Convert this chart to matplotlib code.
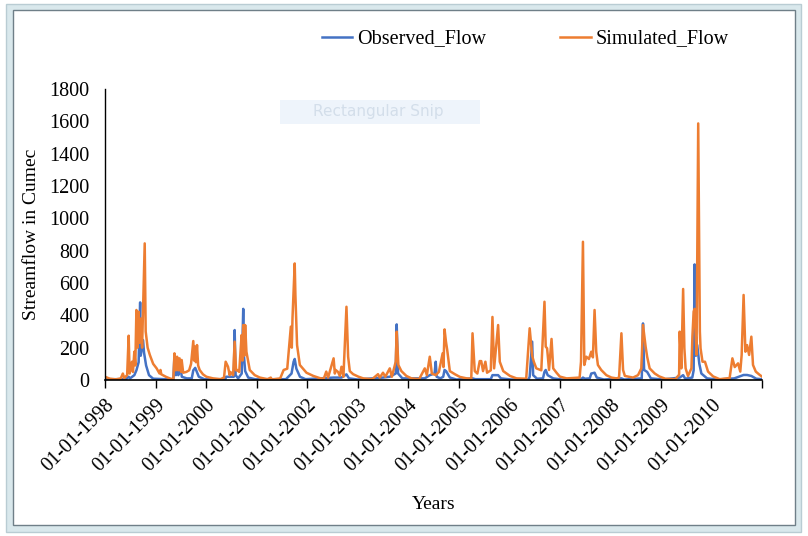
import matplotlib
matplotlib.use("Agg")
import matplotlib.pyplot as plt
from matplotlib.patches import Rectangle
import pandas as pd

# breakpoints (date, flow in cumec)
sim_dates = [
    "1998-01-01", "1998-02-05", "1998-03-20", "1998-04-25", "1998-05-10", "1998-05-20", "1998-06-10",
    "1998-06-21", "1998-06-28", "1998-07-15", "1998-07-22", "1998-08-01", "1998-08-08", "1998-08-16",
    "1998-08-24", "1998-09-01", "1998-09-08", "1998-09-18", "1998-09-26", "1998-10-15", "1998-10-22",
    "1998-11-05", "1998-11-21", "1998-12-15", "1999-01-09", "1999-01-30", "1999-02-06", "1999-02-12",
    "1999-03-19", "1999-04-20", "1999-05-10", "1999-05-18", "1999-05-28", "1999-06-06", "1999-06-15",
    "1999-06-24", "1999-07-05", "1999-07-09", "1999-07-20", "1999-08-12", "1999-09-01", "1999-09-15",
    "1999-10-01", "1999-10-07", "1999-10-12", "1999-10-20", "1999-10-28", "1999-11-05", "1999-11-16",
    "1999-12-10", "2000-01-04", "2000-02-21", "2000-04-15", "2000-05-10", "2000-05-22", "2000-06-08",
    "2000-06-20", "2000-06-25", "2000-07-15", "2000-07-26", "2000-08-05", "2000-08-13", "2000-08-28",
    "2000-09-14", "2000-09-20", "2000-09-26", "2000-10-03", "2000-10-10", "2000-10-19", "2000-11-12",
    "2000-12-18", "2001-01-24", "2001-03-20", "2001-04-13", "2001-04-20", "2001-06-20", "2001-07-15",
    "2001-08-10", "2001-09-05", "2001-09-12", "2001-09-17", "2001-10-03", "2001-10-08", "2001-10-20",
    "2001-11-09", "2001-12-27", "2002-02-15", "2002-04-01", "2002-05-01", "2002-05-19", "2002-06-01",
    "2002-07-11", "2002-07-20", "2002-07-26", "2002-08-12", "2002-08-25", "2002-09-06", "2002-09-20",
    "2002-10-12", "2002-10-24", "2002-11-05", "2002-11-29", "2003-01-05", "2003-02-10", "2003-04-15",
    "2003-05-28", "2003-06-10", "2003-07-03", "2003-07-20", "2003-08-21", "2003-09-05", "2003-10-03",
    "2003-10-10", "2003-10-22", "2003-11-13", "2003-12-19", "2004-01-25", "2004-03-20", "2004-04-30",
    "2004-05-15", "2004-06-05", "2004-06-20", "2004-07-18", "2004-08-10", "2004-09-06", "2004-09-12",
    "2004-09-20", "2004-09-30", "2004-10-09", "2004-10-28", "2004-12-03", "2005-01-09", "2005-02-27",
    "2005-04-01", "2005-04-10", "2005-04-26", "2005-05-15", "2005-06-01", "2005-06-12", "2005-06-25",
    "2005-07-12", "2005-07-24", "2005-08-20", "2005-09-01", "2005-09-13", "2005-10-12", "2005-10-24",
    "2005-11-18", "2006-01-06", "2006-02-22", "2006-05-03", "2006-05-28", "2006-06-15", "2006-06-27",
    "2006-07-15", "2006-08-20", "2006-09-12", "2006-09-21", "2006-10-01", "2006-10-15", "2006-11-02",
    "2006-11-14", "2006-12-08", "2007-01-01", "2007-02-19", "2007-05-24", "2007-06-03", "2007-06-17",
    "2007-06-27", "2007-07-11", "2007-07-30", "2007-08-16", "2007-08-28", "2007-09-09", "2007-09-21",
    "2007-10-03", "2007-10-27", "2007-12-03", "2008-01-09", "2008-02-15", "2008-03-04", "2008-03-21",
    "2008-04-02", "2008-04-15", "2008-06-13", "2008-07-19", "2008-08-12", "2008-08-24", "2008-09-12",
    "2008-09-23", "2008-10-11", "2008-11-17", "2008-12-20", "2009-02-01", "2009-04-15", "2009-05-12",
    "2009-05-16", "2009-05-28", "2009-06-10", "2009-06-19", "2009-06-28", "2009-07-15", "2009-08-09",
    "2009-08-16", "2009-08-25", "2009-09-01", "2009-09-15", "2009-09-27", "2009-10-09", "2009-10-14",
    "2009-10-28", "2009-11-15", "2009-12-07", "2010-01-13", "2010-03-01", "2010-05-12", "2010-06-01",
    "2010-06-18", "2010-07-12", "2010-07-28", "2010-08-07", "2010-08-21", "2010-09-03", "2010-09-15",
    "2010-09-30", "2010-10-16", "2010-10-28", "2010-11-17", "2010-12-16", "2010-12-31",
]
sim_flow = [
    20, 8, 4, 10, 40, 12, 30,
    274, 40, 113, 50, 175, 90, 433,
    200, 422, 230, 380, 200, 845, 300,
    200, 155, 100, 72, 40, 62, 35,
    19, 8, 5, 165, 60, 144, 60,
    134, 50, 124, 45, 50, 60, 100,
    241, 120, 207, 110, 216, 90, 62,
    35, 20, 10, 5, 15, 113, 82,
    30, 50, 30, 237, 60, 62, 50,
    278, 120, 340, 150, 340, 175, 62,
    30, 15, 5, 15, 3, 10, 62,
    70, 330, 200, 383, 721, 525, 216,
    93, 45, 25, 12, 8, 52, 15,
    134, 40, 62, 50, 25, 82, 20,
    453, 144, 55, 36, 21, 10, 5,
    36, 15, 45, 20, 72, 20, 113,
    299, 93, 55, 25, 10, 5, 72,
    30, 144, 40, 30, 50, 165, 80,
    313, 237, 186, 55, 36, 19, 10,
    8, 289, 55, 40, 117, 117, 55,
    113, 45, 60, 390, 72, 340, 113,
    55, 25, 10, 8, 320, 150, 113,
    72, 60, 484, 206, 196, 62, 254,
    72, 45, 21, 10, 15, 113, 855,
    93, 144, 130, 175, 140, 433, 175,
    93, 62, 30, 15, 10, 15, 289,
    62, 25, 15, 30, 72, 340, 206,
    144, 72, 40, 22, 8, 5, 33,
    299, 72, 563, 196, 72, 25, 72,
    268, 423, 440, 155, 1587, 299, 196,
    113, 113, 52, 22, 5, 12, 134,
    80, 103, 52, 155, 526, 175, 216,
    155, 268, 93, 52, 31, 22,
]

obs_dates = [
    "1998-01-01", "1998-06-01", "1998-06-21", "1998-07-01", "1998-08-01", "1998-08-16", "1998-09-01",
    "1998-09-12", "1998-09-16", "1998-10-03", "1998-10-10", "1998-10-25", "1998-11-15", "1998-12-15",
    "1999-05-10", "1999-05-18", "1999-05-28", "1999-06-06", "1999-06-15", "1999-06-24", "1999-07-10",
    "1999-08-15", "1999-09-20", "1999-10-01", "1999-10-15", "1999-11-10", "1999-12-20", "2000-05-20",
    "2000-05-25", "2000-07-20", "2000-07-26", "2000-08-02", "2000-08-20", "2000-09-15", "2000-09-26",
    "2000-10-01", "2000-10-10", "2000-11-01", "2000-12-20", "2001-08-01", "2001-09-10", "2001-09-25",
    "2001-10-03", "2001-10-15", "2001-11-10", "2001-12-20", "2002-07-11", "2002-09-06", "2002-10-12",
    "2002-10-30", "2003-01-01", "2003-07-03", "2003-08-21", "2003-10-03", "2003-10-10", "2003-10-20",
    "2003-11-20", "2004-04-30", "2004-06-05", "2004-07-10", "2004-07-18", "2004-07-25", "2004-08-20",
    "2004-09-10", "2004-09-20", "2004-10-01", "2004-10-28", "2004-12-15", "2005-04-10", "2005-05-01",
    "2005-08-20", "2005-09-01", "2005-10-12", "2005-11-01", "2006-01-15", "2006-05-20", "2006-05-28",
    "2006-06-15", "2006-06-22", "2006-07-20", "2006-09-01", "2006-09-12", "2006-09-21", "2006-10-05",
    "2006-11-14", "2007-01-15", "2007-06-01", "2007-06-17", "2007-07-01", "2007-08-05", "2007-08-16",
    "2007-09-09", "2007-09-25", "2007-11-15", "2008-03-21", "2008-04-10", "2008-08-15", "2008-08-24",
    "2008-09-01", "2008-09-23", "2008-10-20", "2009-01-15", "2009-05-16", "2009-06-10", "2009-06-25",
    "2009-08-15", "2009-08-25", "2009-09-01", "2009-09-10", "2009-09-20", "2009-10-05", "2009-10-20",
    "2009-11-30", "2010-02-15", "2010-06-15", "2010-08-21", "2010-09-15", "2010-10-16", "2010-11-20",
    "2010-12-31",
]
obs_flow = [
    5, 5, 20, 10, 30, 60, 110,
    480, 150, 247, 170, 90, 30, 8,
    3, 150, 30, 130, 30, 120, 20,
    10, 10, 60, 75, 20, 5, 5,
    20, 20, 309, 30, 10, 40, 440,
    150, 55, 15, 5, 5, 40, 113,
    130, 70, 20, 5, 15, 15, 35,
    10, 3, 15, 20, 40, 344, 40,
    10, 10, 30, 40, 113, 20, 10,
    20, 62, 55, 15, 3, 10, 5,
    5, 30, 30, 10, 3, 3, 20,
    237, 30, 8, 10, 50, 62, 30,
    10, 3, 3, 15, 8, 10, 40,
    45, 15, 3, 10, 3, 10, 350,
    62, 50, 10, 3, 15, 30, 8,
    15, 60, 715, 150, 216, 100, 40,
    10, 3, 10, 31, 31, 25, 8,
    5,
]

year_ticks = pd.date_range("1998-01-01", "2011-01-01", freq="YS")
tick_labels = [d.strftime("%d-%m-%Y") for d in year_ticks[:-1]] + [""]

plt.rcParams["font.family"] = ["Liberation Serif", "DejaVu Serif"]
plt.rcParams["font.size"] = 14.5

fig = plt.figure(figsize=(8.08, 5.36), dpi=100)

# outer chart-object frame
fig.patches.append(Rectangle((6 / 808, 4 / 536), 795 / 808, 528 / 536, transform=fig.transFigure,
                             facecolor="#d9e8ec", edgecolor="#b9ccd3", lw=1, zorder=-3))
fig.patches.append(Rectangle((13 / 808, 11 / 536), 782 / 808, 515 / 536, transform=fig.transFigure,
                             facecolor="white", edgecolor="#6f7f88", lw=1, zorder=-2))
# faint screen-snip box left in the original screenshot
fig.patches.append(Rectangle((280 / 808, 1 - 124 / 536), 200 / 808, 24 / 536, transform=fig.transFigure,
                             facecolor="#eef4fb", edgecolor="none", zorder=-1))
fig.text(313 / 808, 1 - 112 / 536, "Rectangular Snip", fontsize=11, color="#d3deea",
         family="DejaVu Sans", va="center", zorder=-1)

ax = fig.add_axes([105 / 808, 1 - 380 / 536, 657 / 808, 291 / 536])
ax.patch.set_alpha(0)

ax.plot(pd.to_datetime(obs_dates), obs_flow, color="#4472C4", lw=1.8, label="Observed_Flow")
ax.plot(pd.to_datetime(sim_dates), sim_flow, color="#ED7D31", lw=1.8, label="Simulated_Flow")

ax.set_xlim(year_ticks[0], year_ticks[-1])
ax.set_ylim(0, 1800)
ax.set_yticks(range(0, 1801, 200))
ax.set_xticks(year_ticks)
ax.set_xticklabels(tick_labels, rotation=45, ha="right", va="top", rotation_mode="anchor")
ax.tick_params(axis="y", length=0, pad=11)
ax.tick_params(axis="x", direction="out", length=6, width=1, pad=5)
for s in ["top", "right"]:
    ax.spines[s].set_visible(False)
ax.spines["left"].set_linewidth(1)
ax.spines["bottom"].set_linewidth(1.2)

ax.set_ylabel("Streamflow in Cumec", fontsize=14)
ax.yaxis.set_label_coords(-0.099, 0.50)
ax.set_xlabel("Years", fontsize=14)
ax.xaxis.set_label_coords(0.5, -0.40)

fig.legend(loc="center", bbox_to_anchor=(0.650, 1 - 39 / 536), ncol=2, frameon=False,
           handlelength=1.5, handletextpad=0.25, columnspacing=3.7, fontsize=14.5)

fig.savefig("out.png", dpi=100)
